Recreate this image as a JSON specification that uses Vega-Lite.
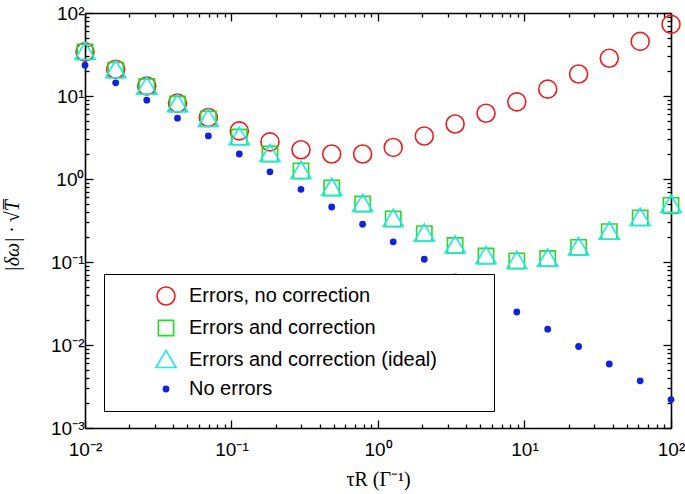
{
  "$schema": "https://vega.github.io/schema/vega-lite/v6.json",
  "autosize": {"type": "none"},
  "width": 586,
  "height": 415,
  "padding": {"left": 85, "top": 13, "right": 14, "bottom": 66},
  "background": "white",
  "config": {
    "view": {"stroke": null},
    "legend": {"strokeColor": "black", "fillColor": "white"},
    "axis": {
      "labelFont": "Liberation Sans",
      "labelFontSize": 19,
      "labelColor": "black",
      "domainColor": "black",
      "domainWidth": 1.6,
      "tickColor": "black",
      "tickWidth": 1.3,
      "grid": false,
      "titleFont": "Liberation Serif",
      "titleFontSize": 20,
      "titleFontWeight": "normal",
      "titleColor": "black"
    }
  },
  "data": {
    "values": [
      {"tau": 0.01, "series": "Errors, no correction", "v": 34},
      {"tau": 0.0162, "series": "Errors, no correction", "v": 21},
      {"tau": 0.0264, "series": "Errors, no correction", "v": 13.2},
      {"tau": 0.0428, "series": "Errors, no correction", "v": 8.2},
      {"tau": 0.0695, "series": "Errors, no correction", "v": 5.5},
      {"tau": 0.113, "series": "Errors, no correction", "v": 3.8},
      {"tau": 0.183, "series": "Errors, no correction", "v": 2.8},
      {"tau": 0.298, "series": "Errors, no correction", "v": 2.25},
      {"tau": 0.483, "series": "Errors, no correction", "v": 2.0},
      {"tau": 0.785, "series": "Errors, no correction", "v": 2.0},
      {"tau": 1.27, "series": "Errors, no correction", "v": 2.4},
      {"tau": 2.07, "series": "Errors, no correction", "v": 3.3},
      {"tau": 3.36, "series": "Errors, no correction", "v": 4.6},
      {"tau": 5.46, "series": "Errors, no correction", "v": 6.2},
      {"tau": 8.86, "series": "Errors, no correction", "v": 8.5},
      {"tau": 14.4, "series": "Errors, no correction", "v": 12.1},
      {"tau": 23.4, "series": "Errors, no correction", "v": 18.4},
      {"tau": 37.9, "series": "Errors, no correction", "v": 28.5},
      {"tau": 61.6, "series": "Errors, no correction", "v": 45.5},
      {"tau": 100, "series": "Errors, no correction", "v": 73},
      {"tau": 0.01, "series": "Errors and correction", "v": 34},
      {"tau": 0.0162, "series": "Errors and correction", "v": 20.5},
      {"tau": 0.0264, "series": "Errors and correction", "v": 13},
      {"tau": 0.0428, "series": "Errors and correction", "v": 8},
      {"tau": 0.0695, "series": "Errors and correction", "v": 5.3},
      {"tau": 0.113, "series": "Errors and correction", "v": 3.2},
      {"tau": 0.183, "series": "Errors and correction", "v": 2.0},
      {"tau": 0.298, "series": "Errors and correction", "v": 1.25},
      {"tau": 0.483, "series": "Errors and correction", "v": 0.78},
      {"tau": 0.785, "series": "Errors and correction", "v": 0.5},
      {"tau": 1.27, "series": "Errors and correction", "v": 0.33},
      {"tau": 2.07, "series": "Errors and correction", "v": 0.22},
      {"tau": 3.36, "series": "Errors and correction", "v": 0.158},
      {"tau": 5.46, "series": "Errors and correction", "v": 0.118},
      {"tau": 8.86, "series": "Errors and correction", "v": 0.103},
      {"tau": 14.4, "series": "Errors and correction", "v": 0.11},
      {"tau": 23.4, "series": "Errors and correction", "v": 0.15},
      {"tau": 37.9, "series": "Errors and correction", "v": 0.232},
      {"tau": 61.6, "series": "Errors and correction", "v": 0.34},
      {"tau": 100, "series": "Errors and correction", "v": 0.48},
      {"tau": 0.01, "series": "Errors and correction (ideal)", "v": 34},
      {"tau": 0.0162, "series": "Errors and correction (ideal)", "v": 20.5},
      {"tau": 0.0264, "series": "Errors and correction (ideal)", "v": 13},
      {"tau": 0.0428, "series": "Errors and correction (ideal)", "v": 8},
      {"tau": 0.0695, "series": "Errors and correction (ideal)", "v": 5.3},
      {"tau": 0.113, "series": "Errors and correction (ideal)", "v": 3.2},
      {"tau": 0.183, "series": "Errors and correction (ideal)", "v": 2.0},
      {"tau": 0.298, "series": "Errors and correction (ideal)", "v": 1.25},
      {"tau": 0.483, "series": "Errors and correction (ideal)", "v": 0.78},
      {"tau": 0.785, "series": "Errors and correction (ideal)", "v": 0.5},
      {"tau": 1.27, "series": "Errors and correction (ideal)", "v": 0.33},
      {"tau": 2.07, "series": "Errors and correction (ideal)", "v": 0.22},
      {"tau": 3.36, "series": "Errors and correction (ideal)", "v": 0.158},
      {"tau": 5.46, "series": "Errors and correction (ideal)", "v": 0.118},
      {"tau": 8.86, "series": "Errors and correction (ideal)", "v": 0.103},
      {"tau": 14.4, "series": "Errors and correction (ideal)", "v": 0.11},
      {"tau": 23.4, "series": "Errors and correction (ideal)", "v": 0.15},
      {"tau": 37.9, "series": "Errors and correction (ideal)", "v": 0.232},
      {"tau": 61.6, "series": "Errors and correction (ideal)", "v": 0.34},
      {"tau": 100, "series": "Errors and correction (ideal)", "v": 0.49},
      {"tau": 0.01, "series": "No errors", "v": 23.5},
      {"tau": 0.0162, "series": "No errors", "v": 14.4},
      {"tau": 0.0264, "series": "No errors", "v": 8.9},
      {"tau": 0.0428, "series": "No errors", "v": 5.4},
      {"tau": 0.0695, "series": "No errors", "v": 3.3},
      {"tau": 0.113, "series": "No errors", "v": 2.0},
      {"tau": 0.183, "series": "No errors", "v": 1.22},
      {"tau": 0.298, "series": "No errors", "v": 0.75},
      {"tau": 0.483, "series": "No errors", "v": 0.46},
      {"tau": 0.785, "series": "No errors", "v": 0.285},
      {"tau": 1.27, "series": "No errors", "v": 0.175},
      {"tau": 2.07, "series": "No errors", "v": 0.108},
      {"tau": 3.36, "series": "No errors", "v": 0.066},
      {"tau": 5.46, "series": "No errors", "v": 0.041},
      {"tau": 8.86, "series": "No errors", "v": 0.025},
      {"tau": 14.4, "series": "No errors", "v": 0.0155},
      {"tau": 23.4, "series": "No errors", "v": 0.0096},
      {"tau": 37.9, "series": "No errors", "v": 0.0059},
      {"tau": 61.6, "series": "No errors", "v": 0.0037},
      {"tau": 100, "series": "No errors", "v": 0.0022}
    ]
  },
  "layer": [
    {
      "mark": {"type": "point", "strokeWidth": 1.6, "opacity": 1, "size": 324, "clip": false},
      "encoding": {
        "x": {
          "field": "tau", "type": "quantitative",
          "scale": {"type": "log", "domain": [0.01, 100], "nice": false},
          "axis": {
            "orient": "bottom",
            "title": "τR (Γ⁻¹)",
            "titlePadding": 10,
            "values": [0.01,0.02,0.03,0.04,0.05,0.06,0.07,0.08,0.09,0.1,0.2,0.3,0.4,0.5,0.6,0.7,0.8,0.9,1,2,3,4,5,6,7,8,9,10,20,30,40,50,60,70,80,90,100],
            "labelExpr": "datum.value == 0.01 ? '10⁻²' : datum.value == 0.1 ? '10⁻¹' : datum.value == 1 ? '10⁰' : datum.value == 10 ? '10¹' : datum.value == 100 ? '10²' : ''",
            "tickSize": {"condition": {"test": "abs(log(datum.value)/LN10 - round(log(datum.value)/LN10)) < 0.001", "value": -8}, "value": -4},
            "labelPadding": 20,
            "labelFlush": false
          }
        },
        "y": {
          "field": "v", "type": "quantitative",
          "scale": {"type": "log", "domain": [0.001, 100], "nice": false},
          "axis": {
            "orient": "left",
            "title": "|δω| · √T̅\u2800\u2800",
            "titleFontStyle": "italic",
            "titleFontSize": 20,
            "titlePadding": 28,
            "values": [0.001,0.002,0.003,0.004,0.005,0.006,0.007,0.008,0.009,0.01,0.02,0.03,0.04,0.05,0.06,0.07,0.08,0.09,0.1,0.2,0.3,0.4,0.5,0.6,0.7,0.8,0.9,1,2,3,4,5,6,7,8,9,10,20,30,40,50,60,70,80,90,100],
            "labelExpr": "datum.value == 0.001 ? '10⁻³' : datum.value == 0.01 ? '10⁻²' : datum.value == 0.1 ? '10⁻¹' : datum.value == 1 ? '10⁰' : datum.value == 10 ? '10¹' : datum.value == 100 ? '10²' : ''",
            "tickSize": {"condition": {"test": "abs(log(datum.value)/LN10 - round(log(datum.value)/LN10)) < 0.001", "value": -8}, "value": -4},
            "labelPadding": 9,
            "labelFlush": false
          }
        },
        "shape": {
          "field": "series", "type": "nominal",
          "scale": {"domain": ["Errors, no correction", "Errors and correction", "Errors and correction (ideal)", "No errors"], "range": ["circle", "M-0.85,-0.85L0.85,-0.85L0.85,0.85L-0.85,0.85Z", "M0,-1.08L1.12,0.84L-1.12,0.84Z", "M-0.29,0A0.29,0.29 0 1,1 0.29,0A0.29,0.29 0 1,1 -0.29,0Z"]}
        },
        "stroke": {
          "field": "series", "type": "nominal",
          "scale": {"domain": ["Errors, no correction", "Errors and correction", "Errors and correction (ideal)", "No errors"], "range": ["#ee1c1c", "#22dd22", "#22e6ea", "#1024d8"]},
          "legend": {
            "orient": "none",
            "legendX": 19,
            "legendY": 261,
            "title": null,
            "padding": 12,
            "symbolOffset": 40,
            "symbolSize": 324,
            "labelFont": "Liberation Sans",
            "labelFontSize": 20,
            "labelColor": "black",
            "labelOffset": 13,
            "labelLimit": 500,
            "rowPadding": 8,
            "symbolStrokeWidth": 1.6,
            "labelExpr": "datum.label + '\u2800\u2800\u2800'"
          }
        },
        "fill": {
          "field": "series", "type": "nominal",
          "scale": {"domain": ["Errors, no correction", "Errors and correction", "Errors and correction (ideal)", "No errors"], "range": ["transparent", "transparent", "transparent", "#1024d8"]}
        }
      }
    },
    {
      "mark": {"type": "point", "opacity": 0},
      "encoding": {
        "x": {
          "field": "tau", "type": "quantitative",
          "scale": {"type": "log", "domain": [0.01, 100], "nice": false},
          "axis": {
            "orient": "top",
            "title": null,
            "labels": false,
            "values": [0.01,0.02,0.03,0.04,0.05,0.06,0.07,0.08,0.09,0.1,0.2,0.3,0.4,0.5,0.6,0.7,0.8,0.9,1,2,3,4,5,6,7,8,9,10,20,30,40,50,60,70,80,90,100],
            "tickSize": {"condition": {"test": "abs(log(datum.value)/LN10 - round(log(datum.value)/LN10)) < 0.001", "value": -8}, "value": -4}
          }
        },
        "y": {
          "field": "v", "type": "quantitative",
          "scale": {"type": "log", "domain": [0.001, 100], "nice": false},
          "axis": {
            "orient": "right",
            "title": null,
            "labels": false,
            "values": [0.001,0.002,0.003,0.004,0.005,0.006,0.007,0.008,0.009,0.01,0.02,0.03,0.04,0.05,0.06,0.07,0.08,0.09,0.1,0.2,0.3,0.4,0.5,0.6,0.7,0.8,0.9,1,2,3,4,5,6,7,8,9,10,20,30,40,50,60,70,80,90,100],
            "tickSize": {"condition": {"test": "abs(log(datum.value)/LN10 - round(log(datum.value)/LN10)) < 0.001", "value": -8}, "value": -4}
          }
        }
      }
    }
  ],
  "resolve": {"axis": {"x": "independent", "y": "independent"}}
}
